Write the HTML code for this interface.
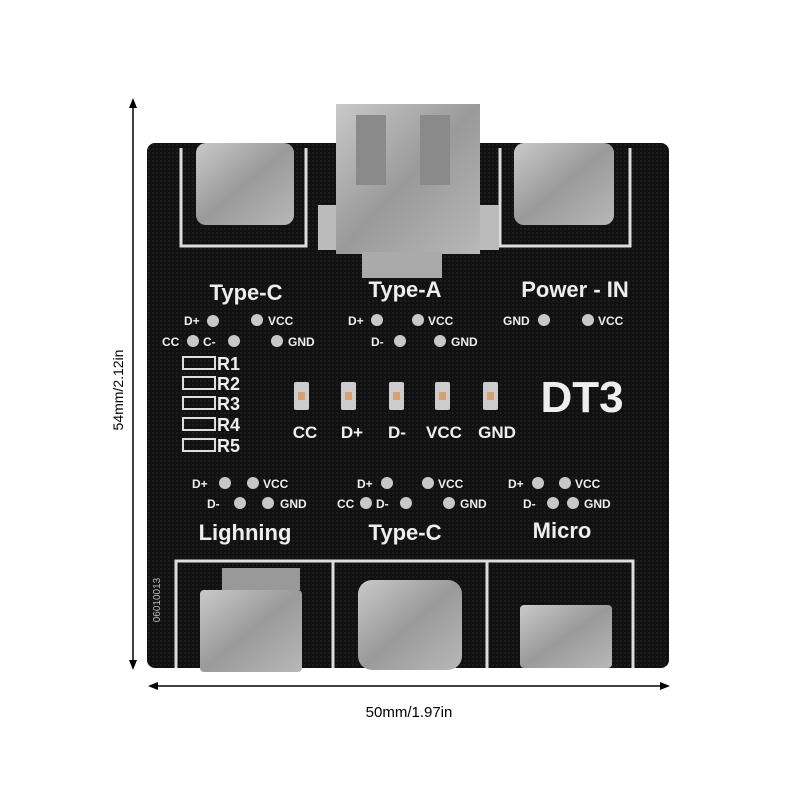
<!DOCTYPE html>
<html><head><style>body{margin:0;background:#fff}svg{display:block}</style></head><body>
<svg width="800" height="800" viewBox="0 0 800 800" xmlns="http://www.w3.org/2000/svg" font-family="Liberation Sans, sans-serif">
<defs>
<linearGradient id="m" x1="0" y1="0" x2="1" y2="1"><stop offset="0" stop-color="#c9c9c9"/><stop offset="0.5" stop-color="#9a9a9a"/><stop offset="1" stop-color="#b8b8b8"/></linearGradient>
<pattern id="dots" width="4" height="4" patternUnits="userSpaceOnUse"><rect width="4" height="4" fill="#111"/><rect width="2" height="2" fill="#1c1c1c"/></pattern>
</defs>
<rect width="800" height="800" fill="#fff"/>
<!-- dimension lines -->
<line x1="133" y1="104" x2="133" y2="664" stroke="#000" stroke-width="1.5"/>
<polygon points="133,98 129,108 137,108" fill="#000"/><polygon points="133,670 129,660 137,660" fill="#000"/>
<text x="118" y="390" font-size="14" text-anchor="middle" transform="rotate(-90 118 390)" dy="5">54mm/2.12in</text>
<line x1="154" y1="686" x2="664" y2="686" stroke="#000" stroke-width="1.5"/>
<polygon points="148,686 158,682 158,690" fill="#000"/><polygon points="670,686 660,682 660,690" fill="#000"/>
<text x="409" y="717" font-size="15" text-anchor="middle">50mm/1.97in</text>
<!-- board -->
<rect x="147" y="143" width="522" height="525" rx="8" fill="url(#dots)"/>
<g fill="none" stroke="#ddd" stroke-width="3">
<path d="M181,148 V246 H306 V148"/><path d="M500,148 V246 H630 V148"/>
<path d="M176,668 V561 H633 V668 M333,561 V668 M487,561 V668"/>
</g>
<!-- top connectors -->
<rect x="196" y="143" width="98" height="82" rx="10" fill="url(#m)"/>
<rect x="514" y="143" width="100" height="82" rx="10" fill="url(#m)"/>
<rect x="318" y="205" width="22" height="45" fill="#bbb"/><rect x="477" y="205" width="22" height="45" fill="#bbb"/>
<rect x="336" y="104" width="144" height="150" fill="url(#m)"/>
<rect x="356" y="115" width="30" height="70" fill="#8a8a8a"/><rect x="420" y="115" width="30" height="70" fill="#8a8a8a"/>
<rect x="362" y="252" width="80" height="26" fill="#aaa"/>
<!-- labels -->
<g fill="#eee" font-weight="bold" font-size="22" text-anchor="middle">
<text x="246" y="300">Type-C</text><text x="405" y="297">Type-A</text><text x="575" y="297">Power - IN</text>
<text x="245" y="540">Lighning</text><text x="405" y="540">Type-C</text><text x="562" y="538">Micro</text>
<text x="582" y="412" font-size="44">DT3</text>
</g>
<g fill="#eee" font-size="12" font-weight="bold">
<text x="184" y="325">D+</text><text x="268" y="325">VCC</text><text x="162" y="346">CC</text><text x="203" y="346">C-</text><text x="288" y="346">GND</text>
<text x="348" y="325">D+</text><text x="428" y="325">VCC</text><text x="371" y="346">D-</text><text x="451" y="346">GND</text>
<text x="503" y="325">GND</text><text x="598" y="325">VCC</text>
<text x="192" y="488">D+</text><text x="263" y="488">VCC</text><text x="207" y="508">D-</text><text x="280" y="508">GND</text>
<text x="357" y="488">D+</text><text x="438" y="488">VCC</text><text x="337" y="508">CC</text><text x="376" y="508">D-</text><text x="460" y="508">GND</text>
<text x="508" y="488">D+</text><text x="575" y="488">VCC</text><text x="523" y="508">D-</text><text x="584" y="508">GND</text>
</g>
<g fill="#c8c8c8">
<circle cx="213" cy="321" r="6"/><circle cx="257" cy="320" r="6"/><circle cx="193" cy="341" r="6"/><circle cx="234" cy="341" r="6"/><circle cx="277" cy="341" r="6"/>
<circle cx="377" cy="320" r="6"/><circle cx="418" cy="320" r="6"/><circle cx="400" cy="341" r="6"/><circle cx="440" cy="341" r="6"/>
<circle cx="544" cy="320" r="6"/><circle cx="588" cy="320" r="6"/>
<circle cx="225" cy="483" r="6"/><circle cx="253" cy="483" r="6"/><circle cx="240" cy="503" r="6"/><circle cx="268" cy="503" r="6"/>
<circle cx="387" cy="483" r="6"/><circle cx="428" cy="483" r="6"/><circle cx="366" cy="503" r="6"/><circle cx="406" cy="503" r="6"/><circle cx="449" cy="503" r="6"/>
<circle cx="538" cy="483" r="6"/><circle cx="565" cy="483" r="6"/><circle cx="553" cy="503" r="6"/><circle cx="573" cy="503" r="6"/>
</g>
<!-- resistors -->
<g fill="none" stroke="#ddd" stroke-width="2">
<rect x="183" y="357" width="32" height="12"/><rect x="183" y="377" width="32" height="12"/><rect x="183" y="397" width="32" height="12"/><rect x="183" y="418" width="32" height="12"/><rect x="183" y="439" width="32" height="12"/>
</g>
<g fill="#eee" font-weight="bold" font-size="18">
<text x="217" y="370">R1</text><text x="217" y="390">R2</text><text x="217" y="410">R3</text><text x="217" y="431">R4</text><text x="217" y="452">R5</text>
</g>
<!-- LEDs -->
<g fill="#ccc">
<rect x="294" y="382" width="15" height="28" rx="2"/><rect x="341" y="382" width="15" height="28" rx="2"/><rect x="389" y="382" width="15" height="28" rx="2"/><rect x="435" y="382" width="15" height="28" rx="2"/><rect x="483" y="382" width="15" height="28" rx="2"/>
</g>
<g fill="#d9a070"><rect x="298" y="392" width="7" height="8"/><rect x="345" y="392" width="7" height="8"/><rect x="393" y="392" width="7" height="8"/><rect x="439" y="392" width="7" height="8"/><rect x="487" y="392" width="7" height="8"/></g>
<g fill="#eee" font-weight="bold" font-size="17" text-anchor="middle">
<text x="305" y="438">CC</text><text x="352" y="438">D+</text><text x="397" y="438">D-</text><text x="444" y="438">VCC</text><text x="497" y="438">GND</text>
</g>
<text x="160" y="600" fill="#bbb" font-size="10" transform="rotate(-90 160 600)" text-anchor="middle">06010013</text>
<!-- bottom connectors -->
<rect x="222" y="568" width="78" height="22" fill="#999"/>
<rect x="200" y="590" width="102" height="82" rx="4" fill="url(#m)"/>
<rect x="358" y="580" width="104" height="90" rx="14" fill="url(#m)"/>
<rect x="520" y="605" width="92" height="63" rx="4" fill="url(#m)"/>
</svg>
</body></html>
